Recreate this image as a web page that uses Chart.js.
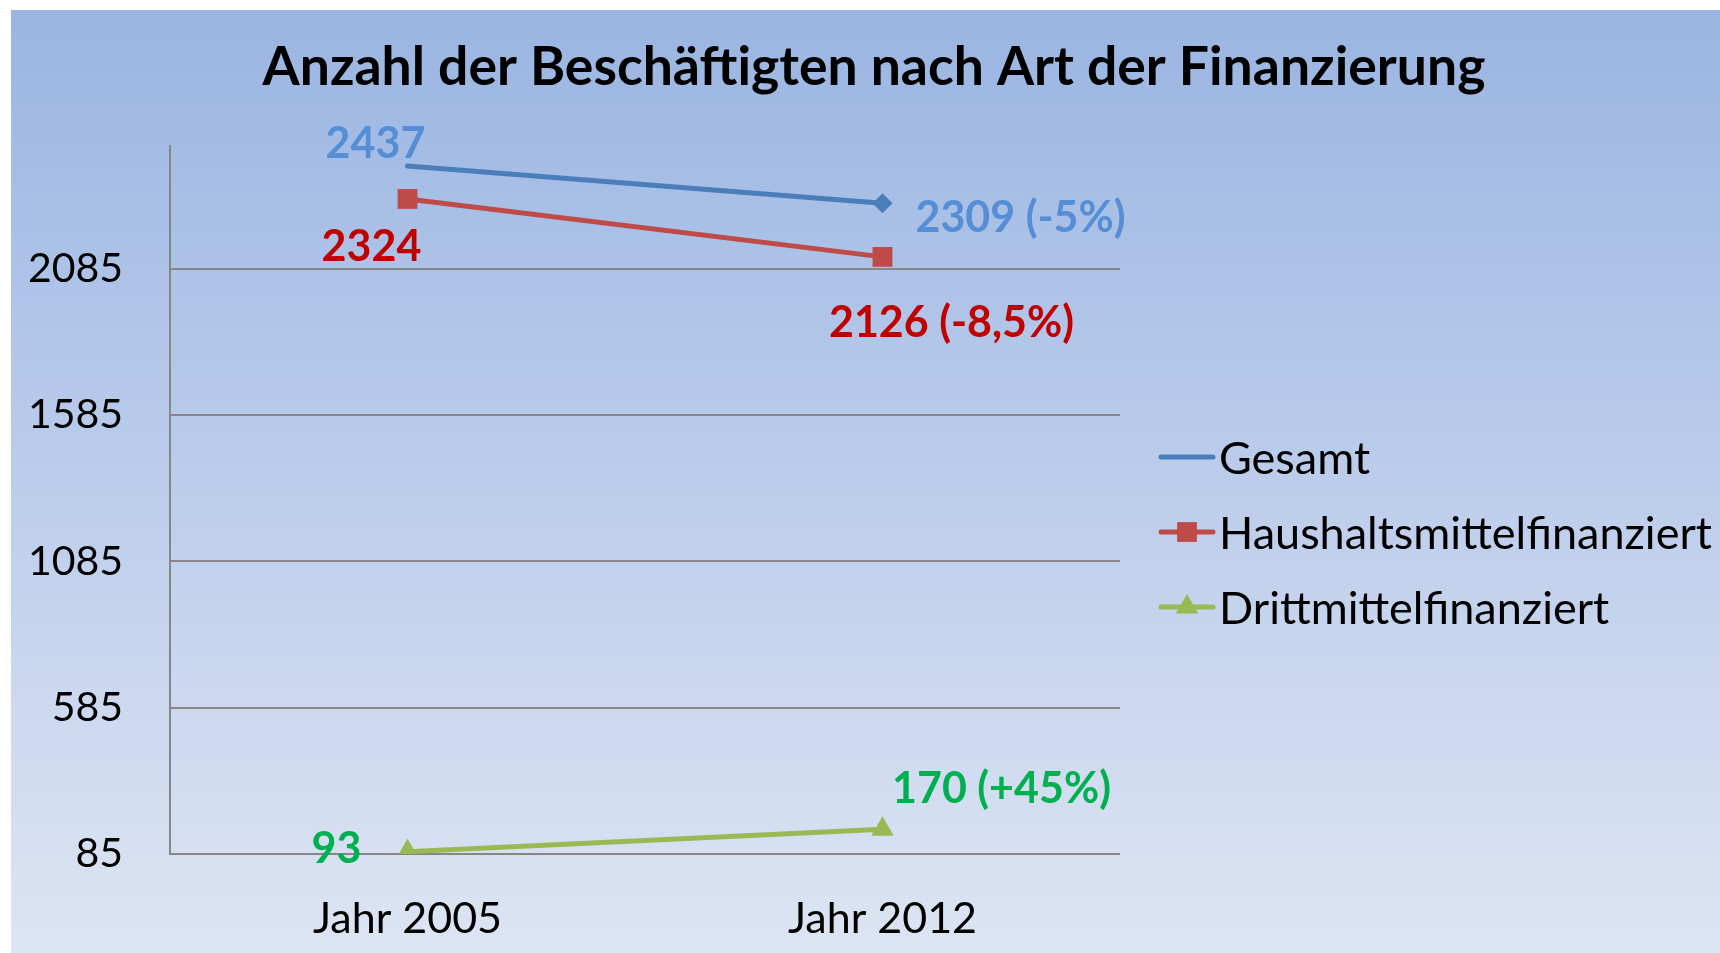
<!DOCTYPE html>
<html><head><meta charset="utf-8">
<script src="https://cdn.jsdelivr.net/npm/chart.js@4"></script>
<style>html,body{margin:0;padding:0;background:#fff;overflow:hidden}#wrap{width:1720px;height:953px;position:relative}</style>
</head><body><div id="wrap"><canvas id="c" width="1720" height="953"></canvas></div>
<script>
const chartTitle = 'Anzahl der Beschäftigten nach Art der Finanzierung';
const categories = ['Jahr 2005', 'Jahr 2012'];
const seriesNames = ['Gesamt', 'Haushaltsmittelfinanziert', 'Drittmittelfinanziert'];
const gesamt = [2437, 2309];
const haushalt = [2324, 2126];
const dritt = [93, 170];
const gesamtLabels = ['2437', '2309 (-5%)'];
const haushaltLabels = ['2324', '2126 (-8,5%)'];
const drittLabels = ['93', '170 (+45%)'];
const yTicks = [85, 585, 1085, 1585, 2085];

const FONT = 'Lato, "Open Sans", sans-serif';

const bgPlugin = {
  id: 'bg',
  beforeDraw(chart) {
    const ctx = chart.ctx;
    ctx.save();
    ctx.fillStyle = '#ffffff';
    ctx.fillRect(0, 0, chart.width, chart.height);
    const g = ctx.createLinearGradient(0, 10, 0, chart.height);
    g.addColorStop(0, '#9AB5E2');
    g.addColorStop(0.5, '#BCCDEB');
    g.addColorStop(1, '#DDE5F3');
    ctx.fillStyle = g;
    ctx.fillRect(11, 10, chart.width - 11, chart.height - 10);
    ctx.restore();
  }
};

function drawMarker(ctx, style, x, y, r, color) {
  if (!style || r <= 0) return;
  ctx.save();
  ctx.fillStyle = color;
  ctx.beginPath();
  if (style === 'rect') {
    const s = Math.SQRT1_2 * r;
    ctx.rect(x - s, y - s, 2 * s, 2 * s);
  } else if (style === 'rectRot') {
    ctx.moveTo(x - r, y); ctx.lineTo(x, y - r); ctx.lineTo(x + r, y); ctx.lineTo(x, y + r); ctx.closePath();
  } else if (style === 'triangle') {
    ctx.moveTo(x, y - r);
    ctx.lineTo(x + r * Math.sin(Math.PI / 3), y + r * 0.5);
    ctx.lineTo(x - r * Math.sin(Math.PI / 3), y + r * 0.5);
    ctx.closePath();
  }
  ctx.fill();
  ctx.restore();
}

const decorPlugin = {
  id: 'decor',
  afterDraw(chart, args, opts) {
    const ctx = chart.ctx;
    ctx.save();
    // title
    ctx.fillStyle = '#000';
    ctx.font = 'bold 53.5px ' + FONT;
    ctx.textAlign = 'center';
    ctx.textBaseline = 'alphabetic';
    ctx.fillText(chartTitle, 874, 85);

    // data labels
    ctx.font = 'bold 43px ' + FONT;
    chart.data.datasets.forEach((ds, i) => {
      const meta = chart.getDatasetMeta(i);
      meta.data.forEach((pt, j) => {
        const off = opts.offsets[i][j];
        ctx.fillStyle = opts.labelColors[i];
        ctx.fillText(ds.valueLabels[j], pt.x + off[0], pt.y + off[1]);
      });
    });

    // legend
    ctx.font = '45px ' + FONT;
    ctx.textAlign = 'left';
    ctx.textBaseline = 'middle';
    chart.data.datasets.forEach((ds, i) => {
      const y = 457 + i * 75;
      ctx.strokeStyle = ds.borderColor;
      ctx.lineWidth = 5;
      ctx.lineCap = 'round';
      ctx.beginPath();
      ctx.moveTo(1161, y); ctx.lineTo(1213, y);
      ctx.stroke();
      drawMarker(ctx, ds.legendMarker, 1187, y, ds.legendRadius, ds.borderColor);
      ctx.fillStyle = '#000';
      ctx.fillText(ds.label, 1219, y + 2);
    });
    ctx.restore();
  }
};

new Chart(document.getElementById('c'), {
  type: 'line',
  data: {
    labels: categories,
    datasets: [
      { label: seriesNames[0], data: gesamt, valueLabels: gesamtLabels,
        borderColor: '#4A7EBB', backgroundColor: '#4A7EBB', borderWidth: 5, borderCapStyle: 'round',
        pointStyle: 'rectRot', pointRadius: [0, 10], pointBorderWidth: 0, legendMarker: null, legendRadius: 0 },
      { label: seriesNames[1], data: haushalt, valueLabels: haushaltLabels,
        borderColor: '#BE4B48', backgroundColor: '#BE4B48', borderWidth: 5, borderCapStyle: 'round',
        pointStyle: 'rect', pointRadius: 14, pointBorderWidth: 0, legendMarker: 'rect', legendRadius: 14 },
      { label: seriesNames[2], data: dritt, valueLabels: drittLabels,
        borderColor: '#98B954', backgroundColor: '#98B954', borderWidth: 5, borderCapStyle: 'round',
        pointStyle: 'triangle', pointRadius: 13, pointBorderWidth: 0, legendMarker: 'triangle', legendRadius: 13 }
    ]
  },
  options: {
    responsive: false,
    animation: false,
    devicePixelRatio: 1,
    layout: { padding: { left: 0, top: 146, right: 600, bottom: 0 } },
    plugins: {
      legend: { display: false },
      title: { display: false },
      tooltip: { enabled: false },
      decor: {
        labelColors: ['#558ED5', '#C00000', '#00B050'],
        offsets: [
          [[-32, -8], [138, 29]],
          [[-36, 62], [69, 80]],
          [[-71, 11], [119, -26]]
        ]
      }
    },
    scales: {
      x: {
        offset: true,
        grid: { display: false },
        border: { display: false },
        ticks: { color: '#000', font: { family: FONT, size: 43 }, padding: 31 },
        afterFit(s) { s.height = 99; }
      },
      y: {
        min: 85, max: 2505,
        afterBuildTicks(s) { s.ticks = yTicks.map(v => ({ value: v })); },
        grid: { color: '#868686', lineWidth: 2, drawTicks: false },
        border: { color: '#868686', width: 2 },
        ticks: { color: '#000', font: { family: FONT, size: 41 }, padding: 47, callback: v => String(v) },
        afterFit(s) { s.width = 170; }
      }
    }
  },
  plugins: [bgPlugin, decorPlugin]
});
</script>
</body></html>
